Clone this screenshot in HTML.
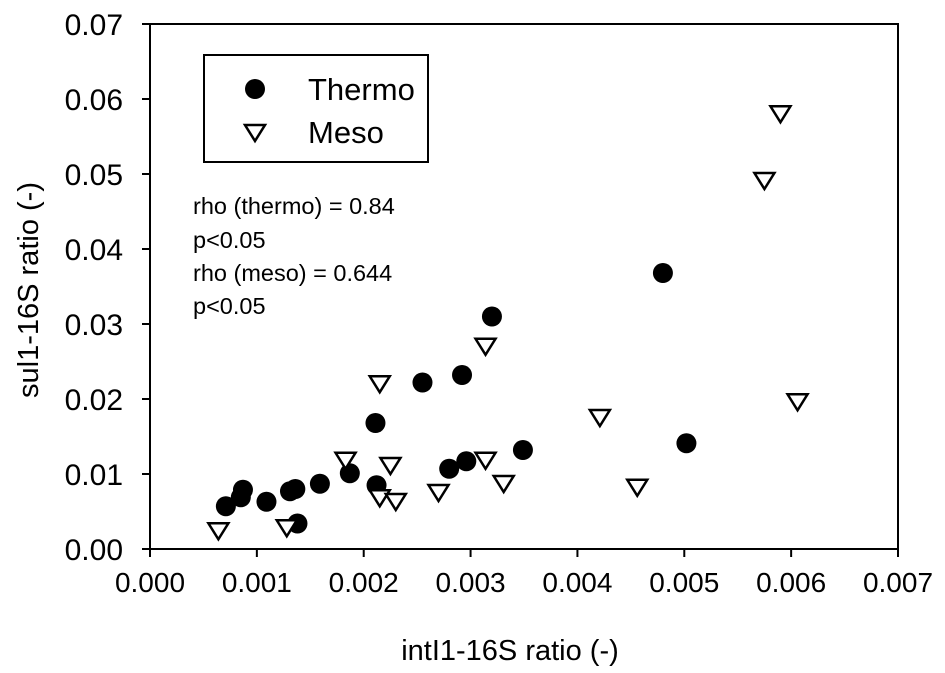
<!DOCTYPE html>
<html><head><meta charset="utf-8"><style>
html,body{margin:0;padding:0;background:#fff;}
svg{display:block;font-family:"Liberation Sans",Arial,sans-serif;}
</style></head><body>
<svg id="chart" width="945" height="673" viewBox="0 0 945 673">
<rect x="150" y="24" width="748" height="525" fill="none" stroke="#000" stroke-width="2"/>
<g id="ticks"></g>
<g id="marks"></g>
<text x="510" y="660" font-size="29" text-anchor="middle">intI1-16S ratio (-)</text>
<text transform="translate(38,290) rotate(-90)" font-size="29" text-anchor="middle">sul1-16S ratio (-)</text>
<g>
<rect x="204" y="55" width="224" height="107" fill="#fff" stroke="#000" stroke-width="2"/>
<circle cx="255" cy="89" r="10" fill="#000"/>
<text x="308" y="100" font-size="31">Thermo</text>
<path d="M245,125 L265,125 L255,141 Z" fill="#fff" stroke="#000" stroke-width="2.5"/>
<text x="308" y="143" font-size="31">Meso</text>
</g>
<g font-size="23.5">
<text x="193" y="214">rho (thermo) = 0.84</text>
<text x="193" y="248">p&lt;0.05</text>
<text x="193" y="281">rho (meso) = 0.644</text>
<text x="193" y="314">p&lt;0.05</text>
</g>
</svg>
<script>
const xTicks=["0.000","0.001","0.002","0.003","0.004","0.005","0.006","0.007"];
const yTicks=["0.00","0.01","0.02","0.03","0.04","0.05","0.06","0.07"];
const thermoX=[0.00071,0.00085,0.00087,0.00109,0.00131,0.00136,0.00138,0.00159,0.00187,0.00211,0.00212,0.00255,0.00292,0.0028,0.00296,0.0032,0.00349,0.0048,0.00502];
const thermoY=[0.0057,0.0069,0.0079,0.0063,0.0077,0.0080,0.0034,0.0087,0.0101,0.0168,0.0085,0.0222,0.0232,0.0107,0.0117,0.0310,0.0132,0.0368,0.0141];
const mesoX=[0.00064,0.00128,0.00183,0.00215,0.00215,0.00225,0.0023,0.0027,0.00314,0.00314,0.00331,0.00421,0.00456,0.00575,0.0059,0.00606];
const mesoY=[0.0025,0.0029,0.0119,0.0221,0.0069,0.0112,0.0064,0.0076,0.0119,0.0271,0.0088,0.0176,0.0083,0.0492,0.0581,0.0197];
const NS="http://www.w3.org/2000/svg";
function sx(v){return 150+v/0.007*748;}
function sy(v){return 549-v/0.07*525;}
const tg=document.getElementById('ticks');
xTicks.forEach(t=>{const v=parseFloat(t),x=sx(v);
 const l=document.createElementNS(NS,'line');l.setAttribute('x1',x);l.setAttribute('x2',x);l.setAttribute('y1',549);l.setAttribute('y2',557);l.setAttribute('stroke','#000');l.setAttribute('stroke-width','2');
 
 
 tg.appendChild(l);
 const tx=document.createElementNS(NS,'text');tx.setAttribute('x',x);tx.setAttribute('y',592);tx.setAttribute('font-size','28');tx.setAttribute('text-anchor','middle');tx.textContent=t;
 
 
 tg.appendChild(tx);});
yTicks.forEach(t=>{const v=parseFloat(t),y=sy(v);
 const l=document.createElementNS(NS,'line');l.setAttribute('x1',142);l.setAttribute('x2',150);l.setAttribute('y1',y);l.setAttribute('y2',y);l.setAttribute('stroke','#000');l.setAttribute('stroke-width','2');
 
 
 tg.appendChild(l);
 const tx=document.createElementNS(NS,'text');tx.setAttribute('x',123);tx.setAttribute('y',y+11);tx.setAttribute('font-size','30');tx.setAttribute('text-anchor','end');tx.textContent=t;
 
 
 tg.appendChild(tx);});
const mg=document.getElementById('marks');
thermoX.forEach((v,i)=>{const c=document.createElementNS(NS,'circle');c.setAttribute('cx',sx(v));c.setAttribute('cy',sy(thermoY[i]));c.setAttribute('r',10);c.setAttribute('fill','#000');
 
 
 mg.appendChild(c);});
mesoX.forEach((v,i)=>{const x=sx(v),y=sy(mesoY[i]);const p=document.createElementNS(NS,'path');
 p.setAttribute('d',`M${x-10},${y-7} L${x+10},${y-7} L${x},${y+9} Z`);p.setAttribute('fill','#fff');p.setAttribute('stroke','#000');p.setAttribute('stroke-width','2.5');
 
 
 mg.appendChild(p);});
</script>
</body></html>
